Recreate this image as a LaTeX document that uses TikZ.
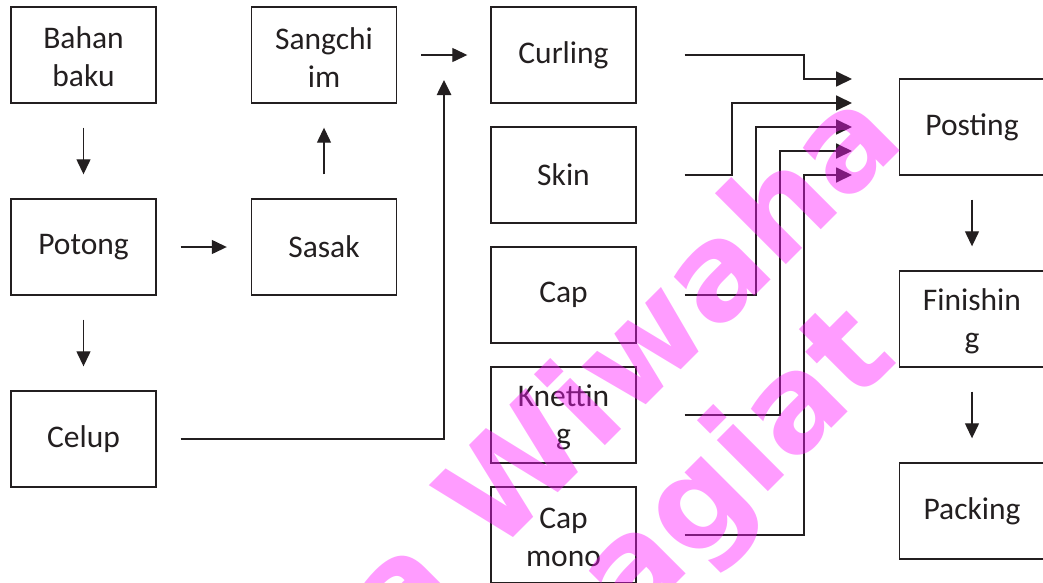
\documentclass[tikz,border=0pt]{standalone}
\usepackage{fontspec}
\setmainfont{Carlito}
\newfontfamily\wmfont{DejaVu Sans}
\usetikzlibrary{arrows.meta}
\definecolor{ink}{HTML}{231F20}
\definecolor{wmcol}{RGB}{255,20,255}
\newcommand\mystrut{\rule{0pt}{26pt}}
\tikzset{
  x=1pt, y=-1pt,
  box/.style={draw=ink, line width=1.4pt, minimum width=145pt, minimum height=96pt,
    inner sep=0pt, align=center, text=ink, font=\fontsize{31.5}{38}\selectfont},
  arr/.style={draw=ink, line width=1.3pt, -{Triangle[length=15pt,width=14pt]},
    shorten <=24pt, shorten >=24pt},
  conn/.style={draw=ink, line width=1.8pt, -{Triangle[length=16pt,width=15pt]}},
  wm/.style={rotate=45, inner sep=0pt, text=wmcol, text opacity=0.42,
    font=\wmfont\bfseries\fontsize{132}{132}\selectfont}
}
\begin{document}
\begin{tikzpicture}
\useasboundingbox (0,0) rectangle (1043,582);
\clip (0,0) rectangle (1043,582);
% boxes
\node[box] (bahan) at (83.5,55) {\mystrut Bahan\\baku};
\node[box] (potong) at (83.5,247) {Potong};
\node[box] (celup) at (83.5,439) {Celup};
\node[box] (sangchi) at (324,55) {\mystrut Sangchi\\im};
\node[box] (sasak) at (324,247) {Sasak};
\node[box] (curling) at (563.5,55) {Curling};
\node[box] (skin) at (563.5,175) {Skin};
\node[box] (cap) at (563.5,295) {Cap};
\node[box] (knet) at (563.5,415) {\mystrut Knettin\\g};
\node[box] (capmono) at (563.5,535) {\mystrut Cap\\mono};
\node[box] (posting) at (972,127) {Posting};
\node[box] (finishing) at (972,319) {\mystrut Finishin\\g};
\node[box] (packing) at (972,511) {Packing};
% short arrows
\draw[arr] (bahan.south) -- (potong.north);
\draw[arr] (potong.south) -- (celup.north);
\draw[arr] (potong.east) -- (sasak.west);
\draw[arr] (sasak.north) -- (sangchi.south);
\draw[arr, shorten >=23pt] (sangchi.east) -- (curling.west);
\draw[arr] (posting.south) -- (finishing.north);
\draw[arr] (finishing.south) -- (packing.north);
% celup line
\coordinate (jtip) at (444,80);
\draw[draw=ink, line width=2.6pt, -{Triangle[length=15pt,width=14pt]}, shorten <=24pt]
  (celup.east) -| (jtip);
% tips at posting side
\coordinate (t1) at (852,79);
\coordinate (t2) at (852,103);
\coordinate (t3) at (852,127);
\coordinate (t4) at (852,151);
\coordinate (t5) at (852,175);
\draw[conn, shorten <=48pt] (curling.east) -| ([xshift=-48pt]t1) -- (t1);
\draw[conn, shorten <=48pt] (skin.east) -| ([xshift=-120pt]t2) -- (t2);
\draw[conn, shorten <=48pt] (cap.east) -| ([xshift=-96pt]t3) -- (t3);
\draw[conn, shorten <=48pt] (knet.east) -| ([xshift=-72pt]t4) -- (t4);
\draw[conn, shorten <=48pt] (capmono.east) -| ([xshift=-48pt]t5) -- (t5);
% watermark
\node[wm, anchor=base east] (wm1) at (908,143) {a Wiwaha};
\node[wm, anchor=base east] (wm2) at (900,360) {agiat};
\end{tikzpicture}
\end{document}
